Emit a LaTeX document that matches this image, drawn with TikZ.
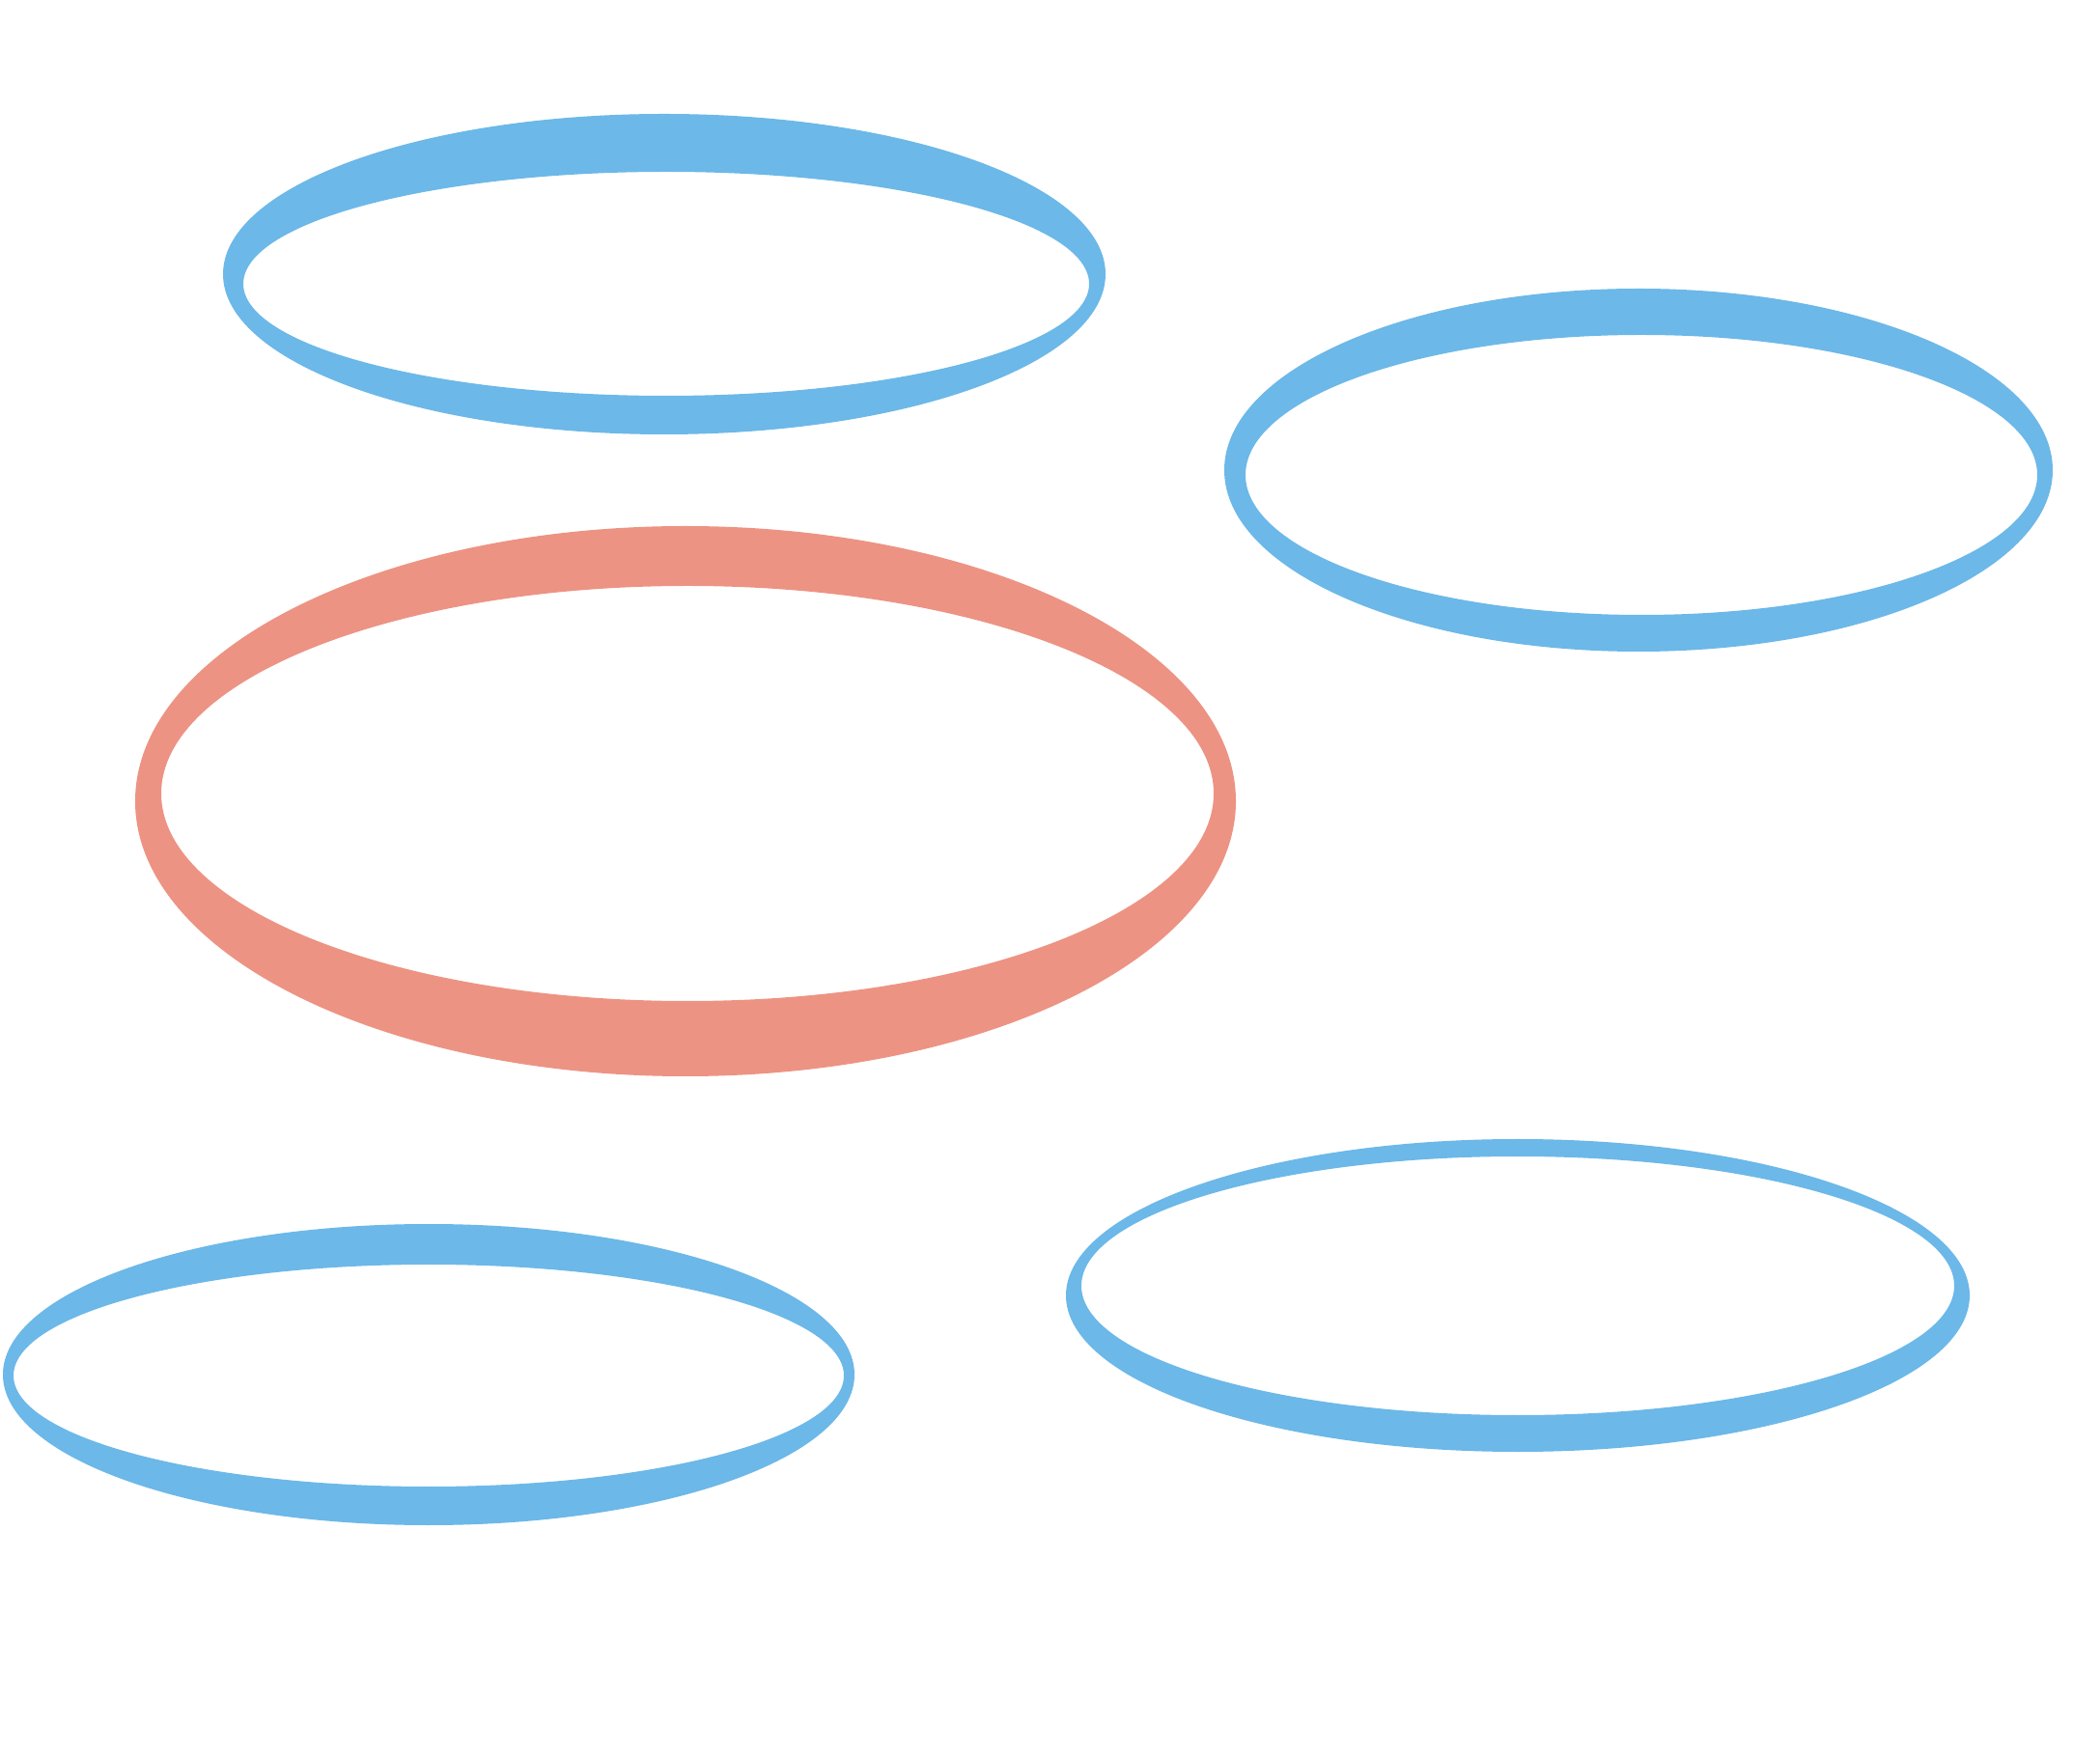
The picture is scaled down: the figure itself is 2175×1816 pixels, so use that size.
\documentclass[tikz,border=0pt]{standalone}
\usepackage{tikz}
\usetikzlibrary{positioning}
\definecolor{ringblue}{HTML}{6CB8E8}
\definecolor{ringred}{HTML}{ED9383}

\begin{document}
\begin{tikzpicture}[x=0.01cm, y=-0.01cm, ring/.style={even odd rule}]
\useasboundingbox (0,0) rectangle (2175,1816);

% Top left ring
\fill[ringblue, ring] (688,284) ellipse [x radius=457, y radius=166]
  (690,294) ellipse [x radius=438, y radius=116];

% Right ring
\fill[ringblue, ring] (1697,487) ellipse [x radius=429, y radius=188]
  (1700,492) ellipse [x radius=410, y radius=145];

% Middle red ring
\fill[ringred, ring] (710,830) ellipse [x radius=570, y radius=285]
  (712,822) ellipse [x radius=545, y radius=215];

% Bottom right ring
\fill[ringblue, ring] (1572,1342) ellipse [x radius=468, y radius=162]
  (1572,1332) ellipse [x radius=452, y radius=134];

% Bottom left ring
\fill[ringblue, ring] (444,1424) ellipse [x radius=441, y radius=156]
  (444,1425) ellipse [x radius=430, y radius=115];
\end{tikzpicture}
\end{document}
